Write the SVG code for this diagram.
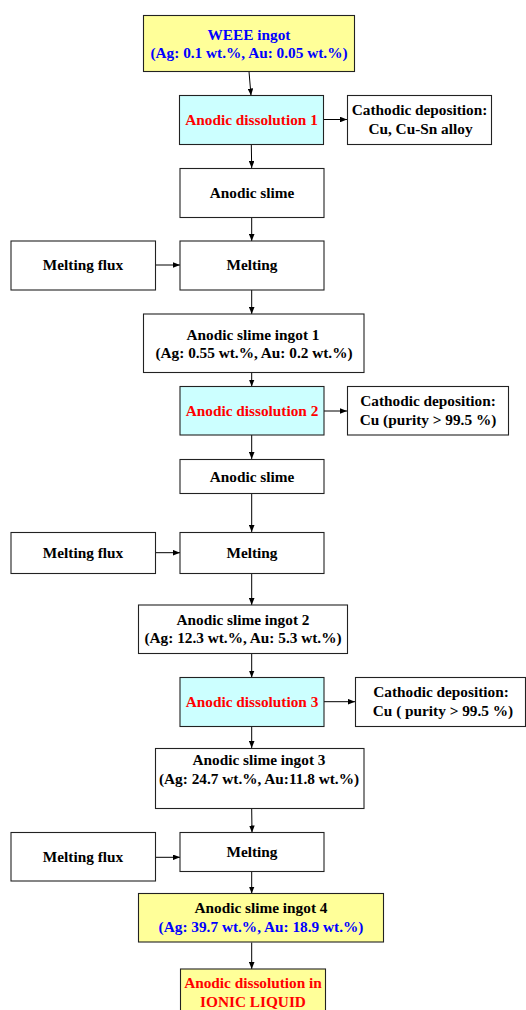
<svg xmlns="http://www.w3.org/2000/svg" width="526" height="1010" viewBox="0 0 526 1010">
<style>
rect{stroke:#222;stroke-width:1.1}
.w{fill:#fff}
.y{fill:#ffff99}
.c{fill:#ccffff}
text{font-family:"Liberation Serif","Times New Roman",serif;font-weight:bold;font-size:15.3px;text-anchor:middle;fill:#000}
.b{fill:#0000ff}
.r{fill:#ff0000}
.e line{stroke:#000;stroke-width:1;marker-end:url(#a)}
</style>
<defs>
<marker id="a" viewBox="0 0 10 8" refX="10" refY="4" markerWidth="7" markerHeight="5.6" markerUnits="userSpaceOnUse" orient="auto">
<path d="M0,0L10,4L0,8z" fill="#000"/>
</marker>
</defs>
<g class="e">
<line x1="249" y1="71.5" x2="251" y2="95.5"/>
<line x1="323.5" y1="119.5" x2="347" y2="119.5"/>
<line x1="251.3" y1="144.5" x2="251.7" y2="168"/>
<line x1="251.7" y1="217.5" x2="251.7" y2="241"/>
<line x1="155.5" y1="265" x2="180" y2="265"/>
<line x1="251.7" y1="290" x2="251.7" y2="314"/>
<line x1="251.7" y1="372.5" x2="251.7" y2="386.5"/>
<line x1="324" y1="411" x2="347" y2="411"/>
<line x1="251.7" y1="435" x2="251.7" y2="459"/>
<line x1="251.7" y1="493.5" x2="251.7" y2="532"/>
<line x1="155.5" y1="552.7" x2="180" y2="552.7"/>
<line x1="251.7" y1="573.5" x2="251.7" y2="605"/>
<line x1="251.7" y1="654" x2="251.7" y2="677.5"/>
<line x1="324" y1="701.7" x2="355" y2="701.7"/>
<line x1="251.7" y1="727" x2="251.7" y2="748"/>
<line x1="251.7" y1="809" x2="252" y2="832.5"/>
<line x1="155.5" y1="857.3" x2="180" y2="857.3"/>
<line x1="251.7" y1="871.5" x2="251.7" y2="893.5"/>
<line x1="251.7" y1="942.5" x2="251.7" y2="969"/>
</g>
<g id="weee"><rect class="y" x="143.5" y="15.5" width="211" height="56"/><text class="b" x="249" y="39.5">WEEE ingot</text><text class="b" x="249" y="57.5">(Ag: 0.1 wt.%, Au: 0.05 wt.%)</text></g>
<g id="ad1"><rect class="c" x="179.5" y="95.5" width="144" height="49"/><text class="r" x="251.5" y="124.5">Anodic dissolution 1</text></g>
<g id="cath1"><rect class="w" x="347.5" y="95.5" width="144" height="49"/><text x="419.5" y="115">Cathodic deposition:</text><text x="420.5" y="134">Cu, Cu-Sn alloy</text></g>
<g id="slime1"><rect class="w" x="180" y="168.5" width="144" height="49"/><text x="252" y="197.5">Anodic slime</text></g>
<g id="flux1"><rect class="w" x="11" y="241" width="144.5" height="49"/><text x="83" y="270">Melting flux</text></g>
<g id="melt1"><rect class="w" x="180" y="241" width="144" height="49"/><text x="252" y="270">Melting</text></g>
<g id="ingot1"><rect class="w" x="143.5" y="314" width="220.5" height="58.5"/><text x="253" y="339.5">Anodic slime ingot 1</text><text x="254" y="357.5">(Ag: 0.55 wt.%, Au: 0.2 wt.%)</text></g>
<g id="ad2"><rect class="c" x="180" y="386.5" width="144" height="48.5"/><text class="r" x="252" y="416">Anodic dissolution 2</text></g>
<g id="cath2"><rect class="w" x="347.5" y="386.5" width="161" height="48.5"/><text x="428" y="406">Cathodic deposition:</text><text x="428" y="425">Cu (purity &gt; 99.5 %)</text></g>
<g id="slime2"><rect class="w" x="180" y="459.5" width="144" height="34"/><text x="252" y="481.5">Anodic slime</text></g>
<g id="flux2"><rect class="w" x="11" y="532.5" width="144.5" height="41"/><text x="83" y="558">Melting flux</text></g>
<g id="melt2"><rect class="w" x="180" y="532.5" width="144" height="41"/><text x="252" y="558">Melting</text></g>
<g id="ingot2"><rect class="w" x="138.5" y="605" width="209" height="48.5"/><text x="243" y="624.5">Anodic slime ingot 2</text><text x="243" y="643">(Ag: 12.3 wt.%, Au: 5.3 wt.%)</text></g>
<g id="ad3"><rect class="c" x="180" y="677.5" width="144" height="49"/><text class="r" x="252" y="707">Anodic dissolution 3</text></g>
<g id="cath3"><rect class="w" x="355.5" y="677.5" width="170" height="49"/><text x="441" y="697">Cathodic deposition:</text><text x="443" y="716">Cu ( purity &gt; 99.5 %)</text></g>
<g id="ingot3"><rect class="w" x="155.5" y="748.5" width="208.5" height="60"/><text x="259" y="764.5">Anodic slime ingot 3</text><text x="259" y="783.5">(Ag: 24.7 wt.%, Au:11.8 wt.%)</text></g>
<g id="flux3"><rect class="w" x="11" y="832.5" width="144.5" height="48.5"/><text x="83" y="862">Melting flux</text></g>
<g id="melt3"><rect class="w" x="180" y="832.5" width="144" height="39"/><text x="252" y="857">Melting</text></g>
<g id="ingot4"><rect class="y" x="138.5" y="893.5" width="245" height="48.5"/><text x="261" y="913">Anodic slime ingot 4</text><text class="b" x="261" y="932">(Ag: 39.7 wt.%, Au: 18.9 wt.%)</text></g>
<g id="final"><rect class="y" x="180.5" y="969" width="145" height="60"/><text class="r" x="253" y="988">Anodic dissolution in</text><text class="r" x="253" y="1007">IONIC LIQUID</text></g>
</svg>
